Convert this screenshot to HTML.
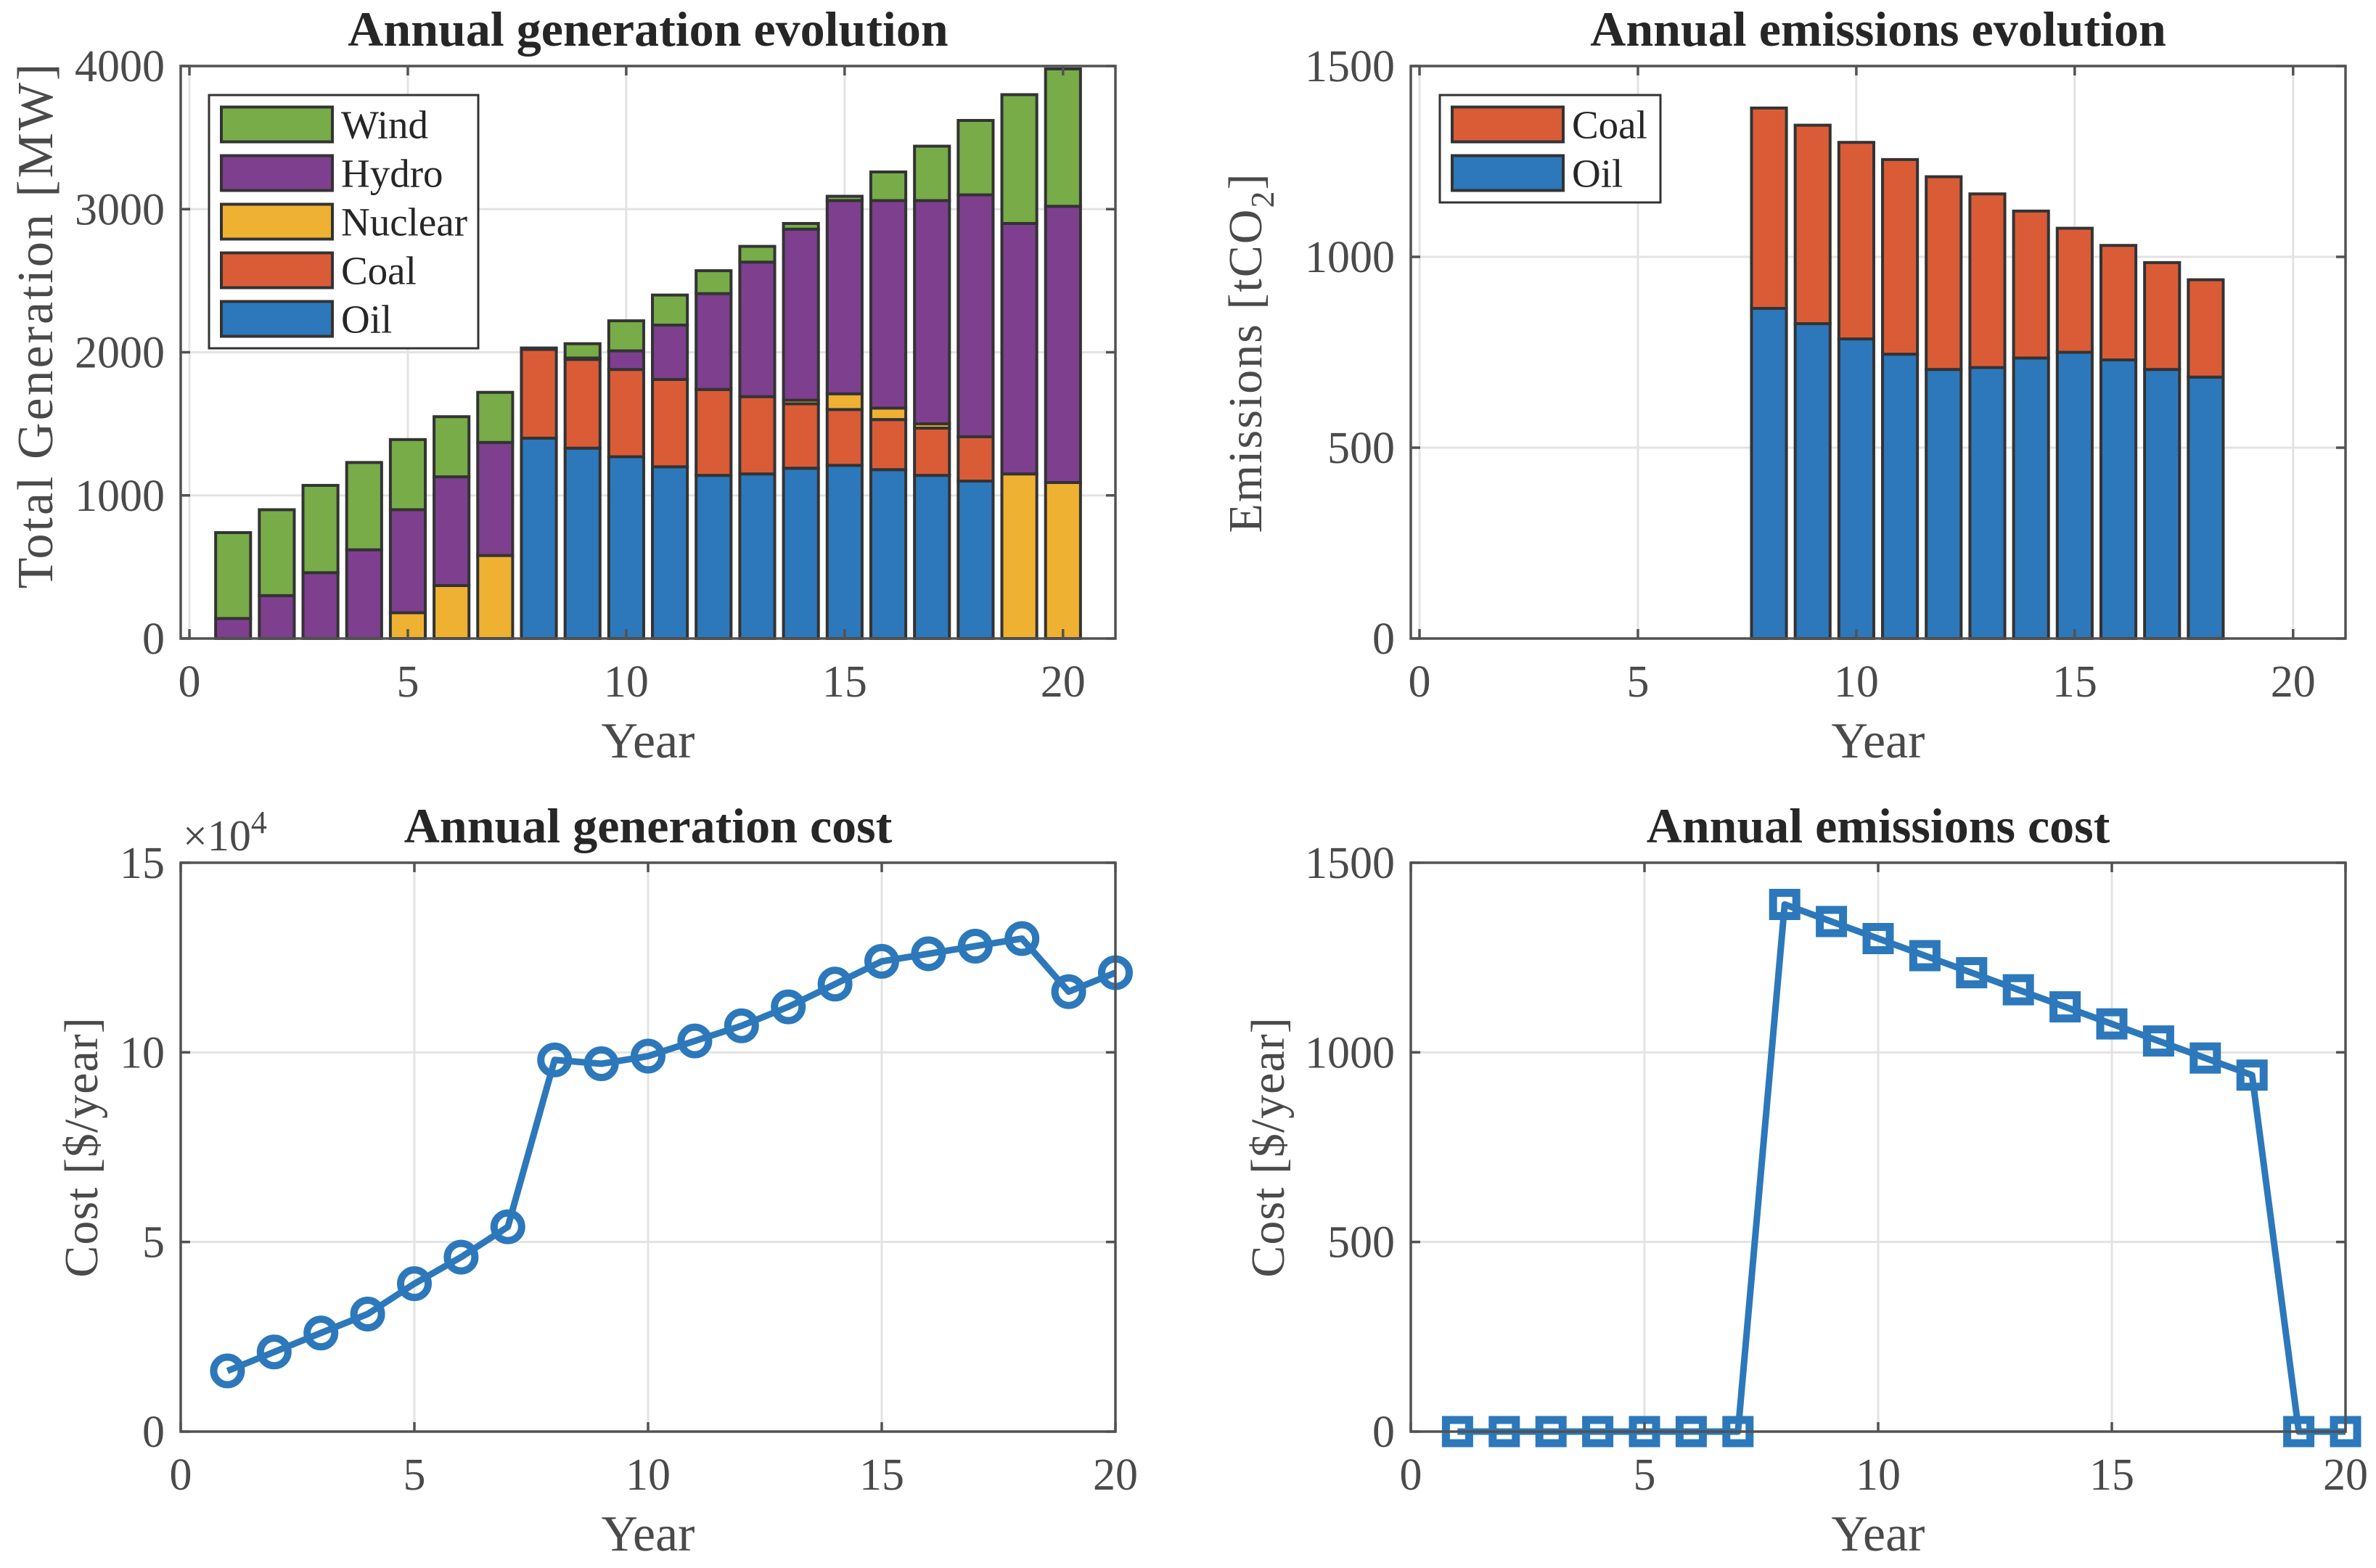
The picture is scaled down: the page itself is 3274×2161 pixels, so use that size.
<!DOCTYPE html>
<html><head><meta charset="utf-8"><style>
html,body{margin:0;padding:0;background:#fff}
svg{display:block}
text{font-family:"Liberation Serif",serif}
</style></head><body>
<svg id="fig" xmlns="http://www.w3.org/2000/svg" width="3274" height="2161" viewBox="0 0 3274 2161"></svg>
<script>
// ---- data ----
const years = [1,2,3,4,5,6,7,8,9,10,11,12,13,14,15,16,17,18,19,20];
const genOil     = [0,0,0,0,0,0,0,1400,1330,1270,1200,1140,1150,1190,1210,1180,1140,1100,0,0];
const genCoal    = [0,0,0,0,0,0,0,620,620,610,610,600,540,450,390,350,330,310,0,0];
const genNuclear = [0,0,0,0,180,370,580,0,0,0,0,0,0,25,110,80,30,0,1150,1090];
const genHydro   = [140,300,460,620,720,760,790,0,10,130,380,670,940,1195,1350,1450,1560,1690,1750,1930];
const genWind    = [600,600,610,610,490,420,350,10,100,210,210,160,110,40,30,200,380,520,900,960];
const emYears = [8,9,10,11,12,13,14,15,16,17,18];
const emOil  = [865,825,785,745,705,710,735,750,730,705,685];
const emCoal = [525,520,515,510,505,455,385,325,300,280,255];
const genCost = [1.6,2.1,2.6,3.1,3.9,4.6,5.4,9.8,9.7,9.9,10.3,10.7,11.2,11.8,12.4,12.6,12.8,13.0,11.6,12.1];
const emCost = [0,0,0,0,0,0,0,1390,1345,1300,1255,1210,1165,1120,1075,1030,985,940,0,0];
const genTicksY = [0,1000,2000,3000,4000];
const emTicksY = [0,500,1000,1500];
const costTicksY = [0,5,10,15];
const xTicks = [0,5,10,15,20];

const NS="http://www.w3.org/2000/svg";
const svg=document.getElementById('fig');
function el(tag,attrs,parent){const e=document.createElementNS(NS,tag);for(const k in attrs)e.setAttribute(k,attrs[k]);(parent||svg).appendChild(e);return e;}
const COL={oil:'#2c78bb',coal:'#d95c37',nuclear:'#eeb132',hydro:'#7e3f8f',wind:'#77ac48'};

function makeAxes(name,L,T,R,B,xmin,xmax,ymin,ymax,yticks){
  const g=el('g',{});
  
  
  const sx=v=>L+(v-xmin)/(xmax-xmin)*(R-L);
  const sy=v=>B-(v-ymin)/(ymax-ymin)*(B-T);
  xTicks.forEach(t=>{const l=el('line',{x1:sx(t),x2:sx(t),y1:T,y2:B,stroke:'#e3e3e3','stroke-width':3},g);
    });
  yticks.forEach(t=>{const l=el('line',{x1:L,x2:R,y1:sy(t),y2:sy(t),stroke:'#e3e3e3','stroke-width':3},g);
    });
  const plot=el('g',{},g);
  
  
  return {g,plot,sx,sy,L,T,R,B,yticks};
}
function finishAxes(a,yfmt){
  const g=a.g;
  const box=el('rect',{x:a.L,y:a.T,width:a.R-a.L,height:a.B-a.T,fill:'none',stroke:'#525252','stroke-width':3.5},g);
  
  xTicks.forEach(t=>{
    const x=a.sx(t);
    el('line',{x1:x,x2:x,y1:a.B,y2:a.B-13,stroke:'#525252','stroke-width':3.5},g);
    el('line',{x1:x,x2:x,y1:a.T,y2:a.T+13,stroke:'#525252','stroke-width':3.5},g);
    const tx=el('text',{x:x,y:a.B+80,'font-size':62,fill:'#4a4a4a','text-anchor':'middle'},g);
    tx.textContent=t;
    
  });
  a.yticks.forEach(t=>{
    const y=a.sy(t);
    el('line',{x1:a.L,x2:a.L+13,y1:y,y2:y,stroke:'#525252','stroke-width':3.5},g);
    el('line',{x1:a.R,x2:a.R-13,y1:y,y2:y,stroke:'#525252','stroke-width':3.5},g);
    const tx=el('text',{x:a.L-22,y:y+21,'font-size':62,fill:'#4a4a4a','text-anchor':'end'},g);
    tx.textContent=yfmt?yfmt(t):t;
    
  });
}
function addText(txt,x,y,size,opts,name){
  const t=el('text',Object.assign({x:x,y:y,'font-size':size,fill:'#4a4a4a','text-anchor':'middle'},opts||{}));
  t.textContent=txt;
  
  
  return t;
}

// ---- Chart 1 ----
const a1=makeAxes('generation-chart',249,91,1537,880,-0.2,21.2,0,4000,genTicksY);
const series1=[['oil',genOil],['coal',genCoal],['nuclear',genNuclear],['hydro',genHydro],['wind',genWind]];
years.forEach((yr,i)=>{
  let base=0;
  series1.forEach(([k,arr])=>{
    const v=arr[i];
    if(v>0){
      const r=el('rect',{x:a1.sx(yr-0.4),y:a1.sy(base+v),width:a1.sx(yr+0.4)-a1.sx(yr-0.4),height:a1.sy(base)-a1.sy(base+v),fill:COL[k],stroke:'#333','stroke-width':4},a1.plot);
      
      
    }
    base+=v;
  });
});
finishAxes(a1);
(function(){
  const lg=el('g',{});
  
  
  el('rect',{x:288,y:131,width:371,height:349,fill:'#fff',stroke:'#333','stroke-width':3},lg);
  const items=[['Wind','wind'],['Hydro','hydro'],['Nuclear','nuclear'],['Coal','coal'],['Oil','oil']];
  items.forEach(([lab,k],i)=>{
    const cy=171.5+i*67;
    const e=el('g',{},lg);
    
    
    el('rect',{x:305,y:cy-24,width:153,height:48,fill:COL[k],stroke:'#333','stroke-width':4},e);
    const t=el('text',{x:470,y:cy+19,'font-size':55,fill:'#262626'},e);t.textContent=lab;
  });
})();
addText('Annual generation evolution',893,63,68,{'font-weight':'bold',fill:'#262626'},'generation-title');
addText('Year',893,1044,70,{},'x-axis-title');
addText('Total Generation [MW]',0,0,70,{transform:'translate(72,448) rotate(-90)','letter-spacing':3},'y-axis-title');

// ---- Chart 2 ----
const a2=makeAxes('emissions-chart',1944,91,3232,880,-0.2,21.2,0,1500,emTicksY);
emYears.forEach((yr,i)=>{
  let base=0;
  [['oil',emOil],['coal',emCoal]].forEach(([k,arr])=>{
    const v=arr[i];
    const r=el('rect',{x:a2.sx(yr-0.4),y:a2.sy(base+v),width:a2.sx(yr+0.4)-a2.sx(yr-0.4),height:a2.sy(base)-a2.sy(base+v),fill:COL[k],stroke:'#333','stroke-width':4},a2.plot);
    
    
    base+=v;
  });
});
finishAxes(a2);
(function(){
  const lg=el('g',{});
  
  
  el('rect',{x:1984,y:131,width:304,height:148,fill:'#fff',stroke:'#333','stroke-width':3},lg);
  [['Coal','coal'],['Oil','oil']].forEach(([lab,k],i)=>{
    const cy=171.5+i*67;
    const e=el('g',{},lg);
    
    
    el('rect',{x:2001,y:cy-24,width:153,height:48,fill:COL[k],stroke:'#333','stroke-width':4},e);
    const t=el('text',{x:2166,y:cy+19,'font-size':55,fill:'#262626'},e);t.textContent=lab;
  });
})();
addText('Annual emissions evolution',2588,63,68,{'font-weight':'bold',fill:'#262626'},'emissions-title');
addText('Year',2588,1044,70,{},'x-axis-title');
(function(){
  const t=el('text',{x:0,y:0,'font-size':66,fill:'#4a4a4a','text-anchor':'middle','letter-spacing':2,transform:'translate(1738,486) rotate(-90)'});
  
  
  t.appendChild(document.createTextNode('Emissions [tCO'));
  const s=el('tspan',{'font-size':46,dy:17},t);s.textContent='2';
  const s2=el('tspan',{dy:-17},t);s2.textContent=']';
})();

// ---- Chart 3 ----
const a3=makeAxes('generation-cost-chart',249,1189,1537,1973,0,20,0,15,costTicksY);
(function(){
  const pts=years.map((yr,i)=>a3.sx(yr)+','+a3.sy(genCost[i])).join(' ');
  const pl=el('polyline',{points:pts,fill:'none',stroke:'#2c78bb','stroke-width':9,'stroke-linejoin':'round'},a3.plot);
  
  
  years.forEach((yr,i)=>{
    const c=el('circle',{cx:a3.sx(yr),cy:a3.sy(genCost[i]),r:19,fill:'none',stroke:'#2c78bb','stroke-width':10},a3.plot);
    
    
  });
})();
finishAxes(a3);
(function(){
  const t=el('text',{x:252,y:1172,'font-size':60,fill:'#4a4a4a'});
  
  
  t.appendChild(document.createTextNode('\u00d710'));
  const s=el('tspan',{'font-size':44,dy:-24},t);s.textContent='4';
})();
addText('Annual generation cost',893,1161,68,{'font-weight':'bold',fill:'#262626'},'generation-cost-title');
addText('Year',893,2137,70,{},'x-axis-title');
addText('Cost [$/year]',0,0,66,{transform:'translate(134,1581) rotate(-90)','letter-spacing':1},'y-axis-title');

// ---- Chart 4 ----
const a4=makeAxes('emissions-cost-chart',1944,1189,3232,1973,0,20,0,1500,emTicksY);
(function(){
  const pts=years.map((yr,i)=>a4.sx(yr)+','+a4.sy(emCost[i])).join(' ');
  const pl=el('polyline',{points:pts,fill:'none',stroke:'#2c78bb','stroke-width':9,'stroke-linejoin':'round'},a4.plot);
  
  
  years.forEach((yr,i)=>{
    const x=a4.sx(yr),y=a4.sy(emCost[i]);
    const s=el('rect',{x:x-16,y:y-16,width:32,height:32,fill:'none',stroke:'#2c78bb','stroke-width':11},a4.plot);
    
    
  });
})();
finishAxes(a4);
addText('Annual emissions cost',2588,1161,68,{'font-weight':'bold',fill:'#262626'},'emissions-cost-title');
addText('Year',2588,2137,70,{},'x-axis-title');
addText('Cost [$/year]',0,0,66,{transform:'translate(1769,1581) rotate(-90)','letter-spacing':1},'y-axis-title');
</script>
</body></html>
